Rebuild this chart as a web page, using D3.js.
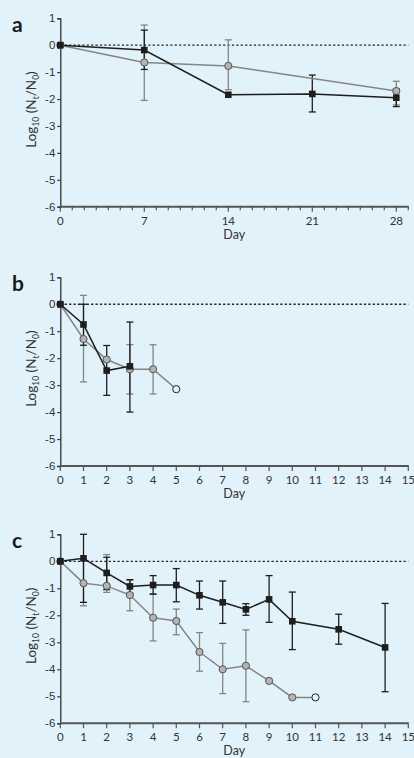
<!DOCTYPE html>
<html>
<head>
<meta charset="utf-8">
<script src="https://cdn.jsdelivr.net/npm/d3@7"></script>
<style>
  html, body { margin: 0; padding: 0; background: #e1f2fa; }
  svg { display: block; font-family: Lato, "DejaVu Sans", sans-serif; }
</style>
</head>
<body>
<svg id="chart" width="414" height="758"></svg>
<script>
// ---- data (log10 N/N0 by day) ----
// panel a
const aBlackDays = [0, 7, 14, 21, 28];
const aBlack = [0, -0.18, -1.84, -1.81, -1.95];
const aBlackHi = [null, 0.56, null, -1.11, -1.62];
const aBlackLo = [null, -0.9, null, -2.48, -2.28];
const aGreyDays = [0, 7, 14, 28];
const aGrey = [0, -0.64, -0.77, -1.7];
const aGreyHi = [null, 0.75, 0.2, -1.34];
const aGreyLo = [null, -2.05, -1.65, -2.22];
const aOpen = [];

// panel b
const bBlackDays = [0, 1, 2, 3];
const bBlack = [0, -0.75, -2.46, -2.3];
const bBlackHi = [null, 0, -1.53, -0.66];
const bBlackLo = [null, -1.52, -3.38, -4.0];
const bGreyDays = [0, 1, 2, 3, 4, 5];
const bGrey = [0, -1.29, -2.05, -2.41, -2.41, -3.15];
const bGreyHi = [null, 0.33, null, -1.5, -1.5, null];
const bGreyLo = [null, -2.88, null, -3.33, -3.33, null];
const bOpen = [5];

// panel c
const cBlackDays = [0, 1, 2, 3, 4, 5, 6, 7, 8, 9, 10, 12, 14];
const cBlack = [0, 0.11, -0.43, -0.93, -0.88, -0.88, -1.26, -1.52, -1.78, -1.41, -2.22, -2.52, -3.19];
const cBlackHi = [null, 1.0, 0.15, -0.68, -0.53, -0.27, -0.73, -0.73, -1.57, -0.53, -1.14, -1.96, -1.56];
const cBlackLo = [null, -1.52, -1.05, -1.18, -1.22, -1.5, -1.77, -2.3, -2.0, -2.26, -3.27, -3.07, -4.83];
const cGreyDays = [0, 1, 2, 3, 4, 5, 6, 7, 8, 9, 10, 11];
const cGrey = [0, -0.81, -0.91, -1.25, -2.09, -2.21, -3.36, -4.0, -3.87, -4.43, -5.04, -5.04];
const cGreyHi = [null, 0.05, 0.25, -0.7, -1.2, -1.77, -2.64, -3.04, -2.54, null, null, null];
const cGreyLo = [null, -1.65, -1.15, -1.83, -2.95, -2.72, -4.07, -4.9, -5.2, null, null, null];
const cOpen = [11];

const yTicks = [1, 0, -1, -2, -3, -4, -5, -6];
const aLabelTicks = [0, 7, 14, 21, 28];
const bcLabelTicks = d3.range(0, 16);

const svg = d3.select("#chart");
const left = 60.3, right = 408.3;

const blackCol = "#1e1e1e";
const greyCol = "#858585";

function zip(days, vals, hi, lo) {
    return days.map((d, i) => ({ day: d, v: vals[i], hi: hi[i], lo: lo[i] }));
}

function panel(opt) {
    const g = svg.append("g");
    const x = d3.scaleLinear().domain([0, opt.xMax]).range([left, right]);
    const y = d3.scaleLinear().domain([-6, 1]).range([opt.bottom, opt.top]);

    // dotted zero line
    g.append("line")
        .attr("x1", left).attr("x2", right)
        .attr("y1", y(0)).attr("y2", y(0))
        .attr("stroke", "#222")
        .attr("stroke-width", 1.3)
        .attr("stroke-dasharray", "2.2,2.2");

    // y axis
    const yAxis = d3.axisLeft(y).tickValues(yTicks).tickSize(3).tickPadding(2).tickFormat(d3.format("d"));
    const ya = g.append("g").attr("transform", `translate(${left},0)`).call(yAxis);
    ya.select(".domain").attr("stroke", "#333").attr("stroke-width", 1.3);
    ya.selectAll(".tick line").attr("stroke", "#333").attr("stroke-width", 1.2);
    ya.selectAll(".tick text").attr("fill", "#333").style("font-size", "11.5px")
        .text(d => d < 0 ? "-" + Math.abs(d) : d);

    // x axis: minor ticks every day
    const xa = g.append("g").attr("transform", `translate(0,${opt.bottom})`);
    xa.append("line").attr("x1", left).attr("x2", right + 0.5)
        .attr("stroke", "#555").attr("stroke-width", 2);
    xa.selectAll(".minor").data(d3.range(0, opt.xMax + 1)).enter().append("line")
        .attr("x1", d => x(d)).attr("x2", d => x(d))
        .attr("y1", 0).attr("y2", d => opt.labels.includes(d) ? 5 : 3.5)
        .attr("stroke", "#555").attr("stroke-width", 1.2);
    xa.selectAll(".lab").data(opt.labels).enter().append("text")
        .attr("x", d => x(d)).attr("y", 18)
        .attr("text-anchor", "middle")
        .attr("fill", "#333")
        .style("font-size", "11.5px")
        .text(d => d);

    g.append("text")
        .attr("x", (left + right) / 2).attr("y", opt.bottom + 32)
        .attr("text-anchor", "middle").attr("fill", "#333")
        .style("font-size", "12.5px").text("Day");

    // y label with subscripts
    const yl = g.append("text")
        .attr("transform", `translate(36,${(opt.top + opt.bottom) / 2 - 3}) rotate(-90)`)
        .attr("text-anchor", "middle").attr("fill", "#333")
        .style("font-size", "13.5px");
    yl.append("tspan").text("Log");
    yl.append("tspan").attr("dy", 2.5).style("font-size", "8.5px").text("10");
    yl.append("tspan").attr("dy", -2.5).text(" (N");
    yl.append("tspan").attr("dy", 2.5).style("font-size", "8.5px").text("t");
    yl.append("tspan").attr("dy", -2.5).text("/N");
    yl.append("tspan").attr("dy", 2.5).style("font-size", "8.5px").text("0");
    yl.append("tspan").attr("dy", -2.5).text(")");

    // panel letter
    g.append("text")
        .attr("x", 12).attr("y", opt.top + 14)
        .attr("fill", "#1a1a1a")
        .style("font-size", "21px").style("font-weight", "bold")
        .text(opt.letter);

    const black = zip(opt.bDays, opt.b, opt.bHi, opt.bLo);
    const grey = zip(opt.gDays, opt.g, opt.gHi, opt.gLo);

    function errorBars(data, col) {
        const eb = g.append("g").attr("stroke", col).attr("stroke-width", 1.3).attr("fill", "none");
        data.filter(d => d.hi !== null).forEach(d => {
            eb.append("line").attr("x1", x(d.day)).attr("x2", x(d.day)).attr("y1", y(d.hi)).attr("y2", y(d.lo));
            [d.hi, d.lo].forEach(v => {
                eb.append("line").attr("x1", x(d.day) - 3.5).attr("x2", x(d.day) + 3.5)
                    .attr("y1", y(v)).attr("y2", y(v));
            });
        });
    }
    errorBars(grey, greyCol);
    errorBars(black, blackCol);

    const line = d3.line().x(d => x(d.day)).y(d => y(d.v));
    g.append("path").datum(grey).attr("d", line)
        .attr("fill", "none").attr("stroke", greyCol).attr("stroke-width", 1.5);
    g.append("path").datum(black).attr("d", line)
        .attr("fill", "none").attr("stroke", blackCol).attr("stroke-width", 1.5);

    g.selectAll(".gdot").data(grey).enter().append("circle")
        .attr("cx", d => x(d.day)).attr("cy", d => y(d.v)).attr("r", 3.6)
        .attr("fill", d => opt.open.includes(d.day) ? "#e1f2fa" : "#b4b4b4")
        .attr("stroke", d => opt.open.includes(d.day) ? "#222" : "#555")
        .attr("stroke-width", 1);

    g.selectAll(".bsq").data(black).enter().append("rect")
        .attr("x", d => x(d.day) - 3.3).attr("y", d => y(d.v) - 3.3)
        .attr("width", 6.6).attr("height", 6.6)
        .attr("fill", blackCol);
}

panel({ letter: "a", top: 18.3, bottom: 206.7, xMax: 29, labels: aLabelTicks,
    bDays: aBlackDays, b: aBlack, bHi: aBlackHi, bLo: aBlackLo,
    gDays: aGreyDays, g: aGrey, gHi: aGreyHi, gLo: aGreyLo, open: aOpen });
panel({ letter: "b", top: 277.3, bottom: 466, xMax: 15, labels: bcLabelTicks,
    bDays: bBlackDays, b: bBlack, bHi: bBlackHi, bLo: bBlackLo,
    gDays: bGreyDays, g: bGrey, gHi: bGreyHi, gLo: bGreyLo, open: bOpen });
panel({ letter: "c", top: 534.3, bottom: 723.3, xMax: 15, labels: bcLabelTicks,
    bDays: cBlackDays, b: cBlack, bHi: cBlackHi, bLo: cBlackLo,
    gDays: cGreyDays, g: cGrey, gHi: cGreyHi, gLo: cGreyLo, open: cOpen });
</script>
</body>
</html>
